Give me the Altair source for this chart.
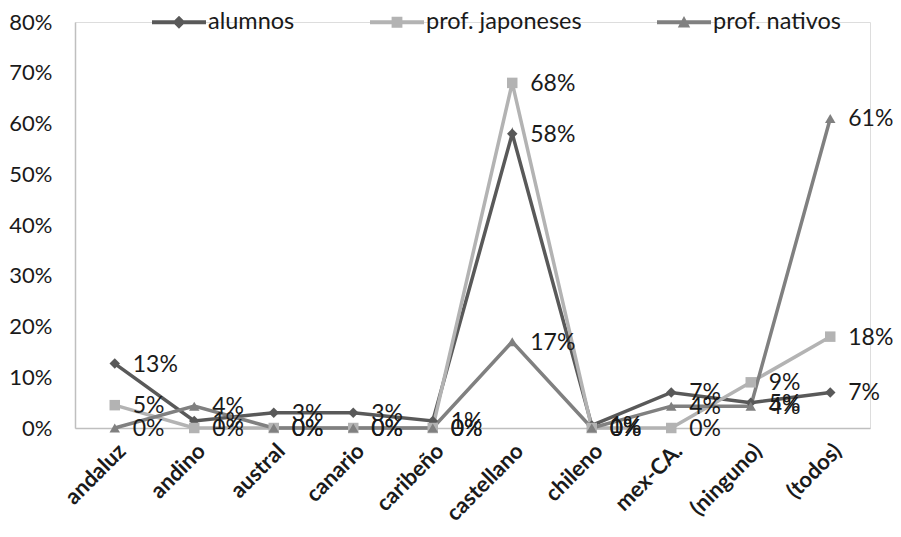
import altair as alt
import pandas as pd

categorias = ["andaluz", "andino", "austral", "canario", "caribeño",
              "castellano", "chileno", "mex-CA.", "(ninguno)", "(todos)"]
series = ["alumnos", "prof. japoneses", "prof. nativos"]
alumnos = [0.127, 0.014, 0.03, 0.03, 0.014, 0.58, 0.005, 0.07, 0.05, 0.07]
japoneses = [0.045, 0.0, 0.0, 0.0, 0.0, 0.68, 0.0, 0.0, 0.09, 0.18]
nativos = [0.0, 0.043, 0.0, 0.0, 0.0, 0.17, 0.0, 0.043, 0.043, 0.61]
colores = ["#595959", "#b3b3b3", "#808080"]
formas = ["diamond", "square", "triangle-up"]
formas_leyenda = [
    "M-1,-0.07H1V0.07H-1Z M0,-0.24L0.24,0L0,0.24L-0.24,0Z",
    "M-1,-0.07H1V0.07H-1Z M-0.2,-0.2H0.2V0.2H-0.2Z",
    "M-1,-0.07H1V0.07H-1Z M0,-0.23L0.23,0.19H-0.23Z",
]

rows = []
for nombre, vals in zip(series, [alumnos, japoneses, nativos]):
    for c, v in zip(categorias, vals):
        rows.append({"cat": c, "serie": nombre, "valor": v})
df = pd.DataFrame(rows)

FONT = "Lato"

x = alt.X("cat:N", sort=categorias, title=None,
          scale=alt.Scale(type="point", padding=0.5),
          axis=alt.Axis(labelAngle=-45, labelFontWeight="bold", labelFontSize=22,
                        labelFont=FONT, labelColor="#1a1a1a", ticks=False,
                        labelPadding=12, domainColor="#bfbfbf", domainWidth=1.5))
y = alt.Y("valor:Q", title=None,
          scale=alt.Scale(domain=[0, 0.8], nice=False),
          axis=alt.Axis(format=".0%", values=[0, 0.1, 0.2, 0.3, 0.4, 0.5, 0.6, 0.7, 0.8],
                        grid=False, ticks=False, labelFontSize=22, labelFont=FONT,
                        labelColor="#1a1a1a", labelPadding=23,
                        domainColor="#bfbfbf", domainWidth=1.5))
color = alt.Color("serie:N", scale=alt.Scale(domain=series, range=colores), legend=None)

base = alt.Chart(df)

lineas = base.mark_line(strokeWidth=3.5).encode(x=x, y=y, color=color)
puntos = base.mark_point(filled=True, size=110, opacity=1).encode(
    x=x, y=y, color=color,
    shape=alt.Shape("serie:N", scale=alt.Scale(domain=series, range=formas), legend=None))
textos = base.mark_text(align="left", baseline="middle", dx=18, dy=1,
                        fontSize=23, font=FONT, color="#1a1a1a").encode(
    x=x, y=y, text=alt.Text("valor:Q", format=".0%"))

leyenda_enc = alt.Legend(orient="none", direction="horizontal", legendX=77, legendY=-27,
                         title=None, labelFont=FONT, labelFontSize=23.5, labelColor="#1a1a1a",
                         symbolSize=2916, symbolStrokeWidth=0, symbolOpacity=1,
                         columnPadding=75, labelOffset=2, padding=0)
leyenda = base.mark_point(filled=True, opacity=0).encode(
    x=x, y=y,
    color=alt.Color("serie:N", scale=alt.Scale(domain=series, range=colores), legend=leyenda_enc),
    shape=alt.Shape("serie:N", scale=alt.Scale(domain=series, range=formas_leyenda),
                    legend=leyenda_enc))

chart = alt.layer(lineas, puntos, textos, leyenda).resolve_scale(
    color="independent", shape="independent"
).properties(
    width=795, height=406,
    padding={"left": 67, "top": 14, "right": 23, "bottom": 100},
    autosize=alt.AutoSizeParams(type="none"),
).configure_view(stroke=None).configure(background="white")

chart.save("out.html", embed_options={"renderer": "svg", "actions": False})
